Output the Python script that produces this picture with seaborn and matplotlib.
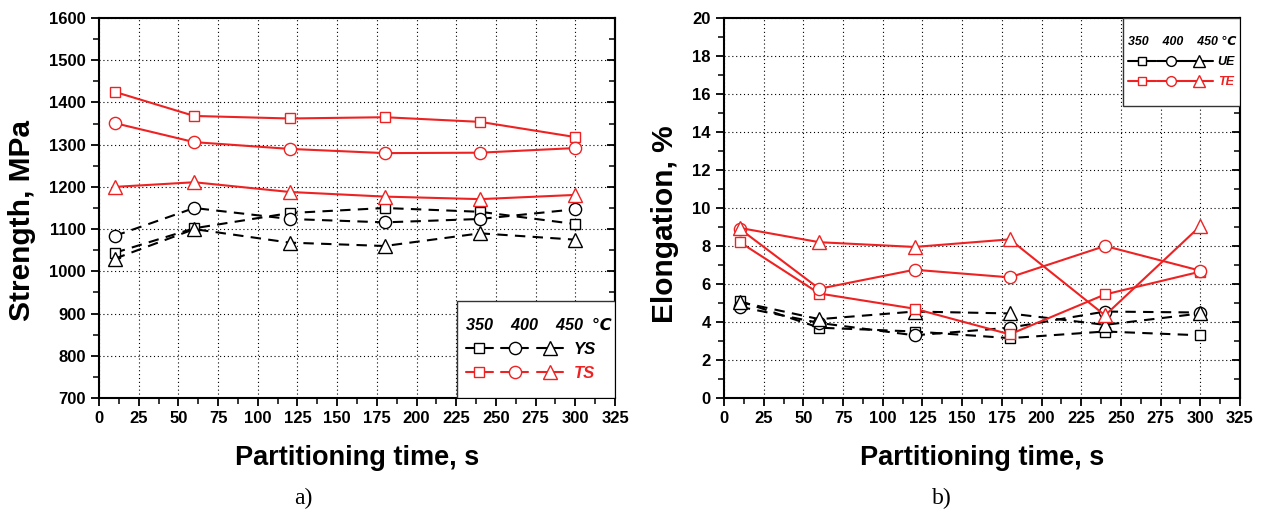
import pandas as pd
import seaborn as sns
import matplotlib.pyplot as plt
from matplotlib.patches import Rectangle
from matplotlib.ticker import MultipleLocator
from matplotlib.legend_handler import HandlerTuple

# partitioning time, s
time = [10, 60, 120, 180, 240, 300]
temps = [350, 400, 450]

# strength, MPa
ys_350 = [1044, 1102, 1138, 1150, 1141, 1112]
ys_400 = [1084, 1150, 1124, 1116, 1124, 1147]
ys_450 = [1030, 1100, 1068, 1060, 1090, 1075]
ts_350 = [1425, 1368, 1362, 1365, 1354, 1318]
ts_400 = [1351, 1306, 1290, 1280, 1281, 1292]
ts_450 = [1200, 1211, 1188, 1177, 1171, 1181]

# elongation, %
ue_350 = [5.1, 3.7, 3.5, 3.15, 3.5, 3.3]
ue_400 = [4.8, 3.95, 3.3, 3.7, 4.55, 4.5]
ue_450 = [5.05, 4.15, 4.55, 4.45, 3.85, 4.45]
te_350 = [8.2, 5.5, 4.7, 3.35, 5.45, 6.65]
te_400 = [8.9, 5.75, 6.75, 6.35, 8.0, 6.7]
te_450 = [8.95, 8.2, 7.95, 8.35, 4.35, 9.05]

RED = "#ee2222"
markers = {350: "s", 400: "o", 450: "^"}
msize = {350: 7.5, 400: 8.8, 450: 10}
dash = (0, (5, 3.5))

sns.set_style("ticks")
plt.rcParams["font.family"] = ["Liberation Sans", "DejaVu Sans"]
plt.rcParams["font.weight"] = "bold"
for k in ["text.color", "axes.labelcolor", "xtick.color", "ytick.color"]:
    plt.rcParams[k] = "black"

fig = plt.figure(figsize=(12.71, 5.12), dpi=100)
W, H = 1271, 512
ax1 = fig.add_axes([99 / W, 1 - 398 / H, 516 / W, 380 / H])
ax2 = fig.add_axes([724 / W, 1 - 398 / H, 516 / W, 380 / H])


def draw(ax, groups, lm):
    handles = []
    for series, color, ls in groups:
        row = []
        for t, y in zip(temps, series):
            sns.lineplot(x=time, y=y, ax=ax, color=color, linestyle=ls, lw=1.5,
                         marker=markers[t], markersize=msize[t], markerfacecolor="white",
                         markeredgecolor=color, markeredgewidth=1.0, zorder=3)
            row.append(plt.Line2D([], [], color=color, linestyle="-", lw=1.5, marker=markers[t],
                                  markersize=msize[t] * lm, markerfacecolor="white",
                                  markeredgecolor=color, markeredgewidth=1.0))
        handles.append(tuple(row))
    return handles


def style(ax, ymin, ymax, ymaj, ystep):
    ax.set_xlim(0, 325)
    ax.set_ylim(ymin, ymax)
    ax.xaxis.set_major_locator(MultipleLocator(25))
    ax.xaxis.set_minor_locator(MultipleLocator(12.5))
    ax.yaxis.set_major_locator(MultipleLocator(ymaj))
    ax.yaxis.set_minor_locator(MultipleLocator(ystep))
    ax.grid(True, which="major", color="black", linestyle=(0, (1, 2.5)), lw=0.8)
    ax.tick_params(which="major", direction="out", length=6, width=1.3, labelsize=12, colors="black")
    ax.tick_params(which="minor", direction="out", length=4, width=1.1)
    for s in ax.spines.values():
        s.set_linewidth(1.5)
        s.set_color("black")
    sec = ax.secondary_yaxis("right")
    sec.yaxis.set_major_locator(MultipleLocator(ymaj))
    sec.yaxis.set_minor_locator(MultipleLocator(ystep))
    sec.tick_params(which="major", direction="in", length=6, width=1.3, labelright=False)
    sec.tick_params(which="minor", direction="in", length=4, width=1.1)
    sec.spines["right"].set_linewidth(1.5)
    for lab in ax.get_xticklabels() + ax.get_yticklabels():
        lab.set_fontweight("bold")
    ax.set_xlabel("Partitioning time, s", fontsize=19.5, fontweight="bold")
    ax.xaxis.set_label_coords(0.5, -0.158)
    ax.xaxis.label.set_va("center")


def legend(ax, handles, labels, fs, tfs, title, hl, pad, tpad, box, spacing, dx=0.0):
    x0, y0, x1, y1 = box
    ax.add_patch(Rectangle((x0, y0), x1 - x0, y1 - y0, transform=ax.transAxes,
                           facecolor="white", edgecolor="#333333", lw=1.0, zorder=4))
    leg = ax.legend(handles, labels, handler_map={tuple: HandlerTuple(ndivide=None, pad=pad)},
                    handlelength=hl, numpoints=1, loc="center",
                    bbox_to_anchor=((x0 + x1) / 2 + dx, (y0 + y1) / 2),
                    borderaxespad=0, frameon=False, title=title, alignment="left",
                    prop=dict(size=fs, weight="bold", style="italic"),
                    title_fontproperties=dict(size=tfs, weight="bold", style="italic"),
                    labelspacing=spacing, handletextpad=tpad, borderpad=0.3)
    leg.set_zorder(5)
    leg.get_texts()[1].set_color(RED)
    return leg


# a) strength
h1 = draw(ax1, [([ys_350, ys_400, ys_450], "black", dash),
                ([ts_350, ts_400, ts_450], RED, "-")], 1.0)
style(ax1, 700, 1600, 100, 50)
ax1.set_ylabel("Strength, MPa", fontsize=21.5, fontweight="bold")
ax1.yaxis.set_label_coords(-0.149, 0.466)
ax1.yaxis.label.set_va("center")
legend(ax1, h1, ["YS", "TS"], 12, 11.7, "350    400    450  \u2103", 5.8, 0.53, 0.66,
       ((457 - 99) / 516, 0.0, 1.0, (398 - 301) / 380), 0.55, dx=3 / 516)

# b) elongation
h2 = draw(ax2, [([ue_350, ue_400, ue_450], "black", dash),
                ([te_350, te_400, te_450], RED, "-")], 0.8)
style(ax2, 0, 20, 2, 1)
ax2.set_ylabel("Elongation, %", fontsize=21.5, fontweight="bold")
ax2.yaxis.set_label_coords(-0.114, 0.458)
ax2.yaxis.label.set_va("center")
legend(ax2, h2, ["UE", "TE"], 9, 8.9, "350    400    450 \u2103", 6.8, 0.05, 0.35,
       ((1123 - 724) / 516, (398 - 106) / 380, 1.0, 1.0), 0.63, dx=1 / 516)

fig.text(303 / W, 1 - 498 / H, "a)", family="Liberation Serif", fontweight="normal",
         fontsize=17, ha="center", va="center")
fig.text(942 / W, 1 - 498 / H, "b)", family="Liberation Serif", fontweight="normal",
         fontsize=17, ha="center", va="center")

fig.savefig("out.png", dpi=100)
